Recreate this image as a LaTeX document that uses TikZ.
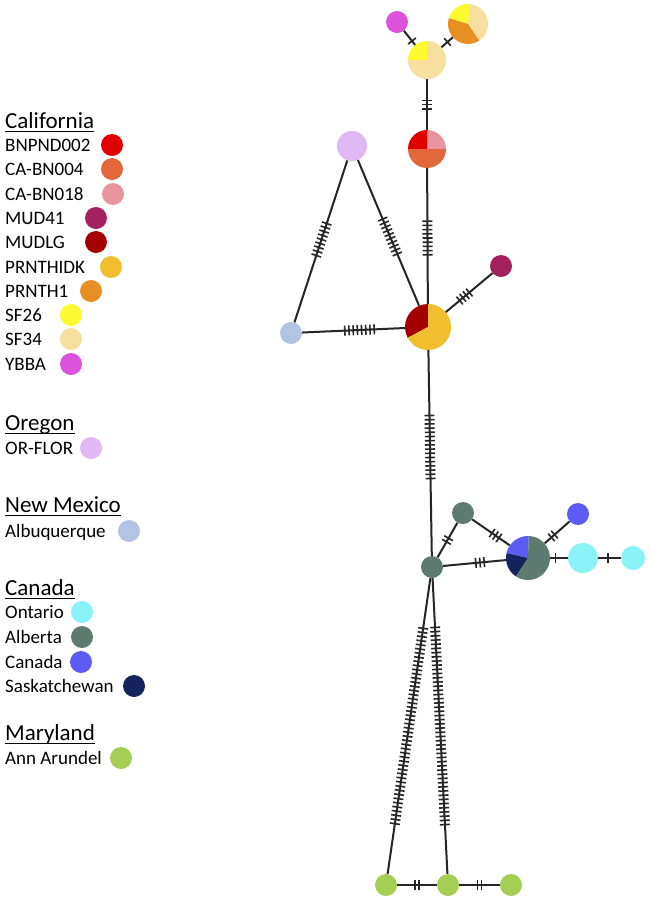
\documentclass[tikz,border=0pt]{standalone}
\usepackage{fontspec}
\setmainfont{Carlito}
\usetikzlibrary{calc}

\definecolor{bnpnd}{HTML}{E10000}
\definecolor{cabnA}{HTML}{E2673A}
\definecolor{cabnB}{HTML}{E8959F}
\definecolor{mudfo}{HTML}{A3215F}
\definecolor{mudlg}{HTML}{A40000}
\definecolor{prnthidk}{HTML}{F0BE2E}
\definecolor{prnth}{HTML}{E88E22}
\definecolor{sfA}{HTML}{FFFA30}
\definecolor{sfB}{HTML}{F7DFA0}
\definecolor{ybba}{HTML}{DC52DC}
\definecolor{orflor}{HTML}{DFB8F4}
\definecolor{albq}{HTML}{B3C3E3}
\definecolor{ontario}{HTML}{8AF3F7}
\definecolor{alberta}{HTML}{5F7B70}
\definecolor{canada}{HTML}{5C5CF4}
\definecolor{sask}{HTML}{16245E}
\definecolor{annar}{HTML}{A5CE55}

\tikzset{
  hap/.style={circle,inner sep=0pt,minimum size=#1},
  hap/.default=22pt,
  edge/.style={line width=2pt,black!85},
  mutbar/.style={line width=1.6pt,black!85},
  legtext/.style={anchor=base west,inner sep=0pt,font=\fontsize{19}{22}\selectfont},
  leghead/.style={anchor=base west,inner sep=0pt,font=\fontsize{23}{27}\selectfont},
}

% connector with #3 mutation bars round its middle
\newcommand\mutedge[3]{%
  \draw[edge] (#1) -- (#2);
  \coordinate (mid) at ($(#1.center)!0.5!(#2.center)$);
  \foreach \i in {1,...,#3} {
    \coordinate (bar) at ($(mid)!{(\i-(#3+1)/2)*4.2pt}!(#2.center)$);
    \draw[mutbar] ($(bar)!5pt!90:(#2.center)$) -- ($(bar)!5pt!-90:(#2.center)$);
  }
}
% one slice of a pie node
\newcommand\hapslice[5]{%
  \fill[#5] (#1.center) -- ++(#3:#2) arc[start angle=#3, end angle=#4, radius=#2] -- cycle;
}

\begin{document}
\begin{tikzpicture}[x=1pt,y=-1pt]
  \path[use as bounding box,fill=white] (0,0) rectangle (650,903);

  % haplotypes
  \node[hap,fill=ybba] (ybba) at (397,22) {};
  \node[hap=40pt] (sfmix) at (468,24) {};
  \node[hap=38pt] (sfpie) at (427,60) {};
  \node[hap=38pt] (capie) at (427,149) {};
  \node[hap=30pt,fill=orflor] (orflor) at (352,146) {};
  \node[hap,fill=albq] (albq) at (291,333) {};
  \node[hap=46pt] (mainpie) at (428,327) {};
  \node[hap,fill=mudfo] (mud41) at (501,266) {};
  \node[hap,fill=alberta] (albA) at (432,567) {};
  \node[hap,fill=alberta] (albB) at (463,513) {};
  \node[hap=44pt] (canpie) at (528,558) {};
  \node[hap,fill=canada] (canb) at (578,514) {};
  \node[hap=30pt,fill=ontario] (ontA) at (583,558) {};
  \node[hap=24pt,fill=ontario] (ontB) at (633,558) {};
  \node[hap,fill=annar] (mdA) at (386,885) {};
  \node[hap,fill=annar] (mdB) at (448,885) {};
  \node[hap,fill=annar] (mdC) at (511,885) {};

  % pies
  \hapslice{sfmix}{20pt}{-56}{85}{sfB}
  \hapslice{sfmix}{20pt}{85}{163}{sfA}
  \hapslice{sfmix}{20pt}{163}{304}{prnth}
  \hapslice{sfpie}{19pt}{90}{180}{sfA}
  \hapslice{sfpie}{19pt}{180}{450}{sfB}
  \hapslice{capie}{19pt}{0}{90}{cabnB}
  \hapslice{capie}{19pt}{90}{180}{bnpnd}
  \hapslice{capie}{19pt}{180}{360}{cabnA}
  \hapslice{mainpie}{23pt}{90}{208}{mudlg}
  \hapslice{mainpie}{23pt}{208}{450}{prnthidk}
  \hapslice{canpie}{22pt}{88}{167}{canada}
  \hapslice{canpie}{22pt}{167}{237}{sask}
  \hapslice{canpie}{22pt}{237}{448}{alberta}

  % connectors
  \mutedge{ybba}{sfpie}{1}
  \mutedge{sfmix}{sfpie}{1}
  \mutedge{sfpie}{capie}{3}
  \mutedge{capie}{mainpie}{9}
  \mutedge{orflor}{mainpie}{10}
  \mutedge{orflor}{albq}{9}
  \mutedge{albq}{mainpie}{8}
  \mutedge{mainpie}{mud41}{4}
  \mutedge{mainpie}{albA}{16}
  \mutedge{albA}{albB}{2}
  \mutedge{albB}{canpie}{3}
  \mutedge{albA}{canpie}{3}
  \mutedge{canpie}{canb}{2}
  \mutedge{canpie}{ontA}{1}
  \mutedge{ontA}{ontB}{1}
  \mutedge{albA}{mdA}{48}
  \mutedge{albA}{mdB}{48}
  \mutedge{mdA}{mdB}{2}
  \mutedge{mdB}{mdC}{2}

  % legend
  \foreach \hd/\y in {California/128, Oregon/430, New Mexico/512, Canada/595, Maryland/740} {
    \node[leghead] (head\y) at (5,\y) {\hd};
    \draw[line width=1.5pt] ($(head\y.base west)+(0,3.5)$) -- ($(head\y.base east)+(0,3.5)$);
  }
  \foreach \txt/\col/\y/\cx in {BNPND002/bnpnd/145/112, CA-BN004/cabnA/169/112,
      CA-BN018/cabnB/194/113, MUD41/mudfo/218/96, MUDLG/mudlg/242/96,
      PRNTHIDK/prnthidk/267/111, PRNTH1/prnth/291/91, SF26/sfA/315/71,
      SF34/sfB/339/71, YBBA/ybba/364/71, OR-FLOR/orflor/448/91,
      Albuquerque/albq/531/129, Ontario/ontario/612/82, Alberta/alberta/637/82,
      Canada/canada/662/81, Saskatchewan/sask/686/134, Ann Arundel/annar/758/121} {
    \node[legtext] (lab-\col) at (5,\y+6) {\txt};
    \node[hap,fill=\col] (dot-\col) at (\cx,\y) {};
  }
\end{tikzpicture}
\end{document}
